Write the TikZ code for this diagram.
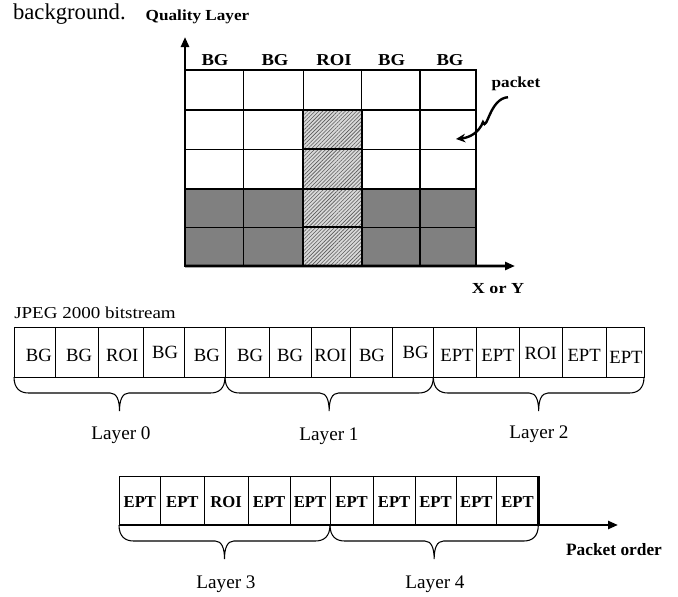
\documentclass[tikz,border=0pt]{standalone}
\usepackage{fontspec}
\setmainfont{Liberation Serif}
\usetikzlibrary{arrows.meta,patterns.meta,calc}
\newcommand{\wide}[2]{\scalebox{#1}[1]{#2}}
\begin{document}
\begin{tikzpicture}[x=0.75pt,y=-0.75pt,
  cell/.style={draw,line width=0.9pt,inner sep=0pt,outer sep=0pt,anchor=north west},
  whitecell/.style={cell,fill=white},
  darkcell/.style={cell,fill=black!50},
  roicell/.style={cell,line width=1.6pt,preaction={fill=black!15},
    pattern={Lines[angle=45,distance=2pt,line width=0.45pt]},pattern color=black!65},
  pbox/.style={draw,line width=0.7pt,inner sep=0pt,outer sep=0pt,anchor=north west},
  axis/.style={line width=2.2pt,-{Triangle[length=7.5pt,width=6pt]}},
  gridlab/.style={inner sep=0pt,font=\fontsize{12.5}{14}\selectfont\bfseries},
  rowone/.style={inner sep=0pt,font=\fontsize{14}{16}\selectfont},
  rowtwo/.style={inner sep=0pt,font=\fontsize{12.5}{15}\selectfont\bfseries},
  layerlab/.style={inner sep=0pt,font=\fontsize{14.4}{17}\selectfont},
  bracestyle/.style={line width=0.8pt}
]
\useasboundingbox (0,0) rectangle (678,596);

% stray text from surrounding page
\node[anchor=base east,inner sep=0pt,font=\fontsize{17}{20}\selectfont] (bgword) at (126,19) {background.};

% ---------- quality layer grid ----------
\node[anchor=base,inner sep=0pt,font=\fontsize{11.5}{13}\selectfont\bfseries] (qlabel) at (197.5,20) {\wide{1.12}{Quality Layer}};

\foreach \r/\ya/\yb in {0/70/110,1/110/149.3,2/149.3/189}
  \foreach \c/\xa/\xb in {0/185/243.3,1/243.3/303.3,3/361.7/420,4/420/476}
    \node[whitecell,minimum width={(\xb-\xa)*0.75pt},minimum height={(\yb-\ya)*0.75pt}] (g\r\c) at (\xa,\ya) {};
\foreach \r/\ya/\yb in {3/189/227.3,4/227.3/266}
  \foreach \c/\xa/\xb in {0/185/243.3,1/243.3/303.3,3/361.7/420,4/420/476}
    \node[darkcell,minimum width={(\xb-\xa)*0.75pt},minimum height={(\yb-\ya)*0.75pt}] (g\r\c) at (\xa,\ya) {};
\node[whitecell,minimum width={58.4*0.75pt},minimum height={40*0.75pt}] (g02) at (303.3,70) {};
\foreach \r/\ya/\yb in {1/110/149.3,2/149.3/189,3/189/227.3,4/227.3/266}
  \node[roicell,minimum width={58.4*0.75pt},minimum height={(\yb-\ya)*0.75pt}] (g\r2) at (303.3,\ya) {};

\foreach \c/\x/\t in {0/215/BG,1/275/BG,2/334/ROI,3/391.7/BG,4/450/BG}
  \node[gridlab] (h\c) at (\x,60) {\wide{1.12}{\t}};

\coordinate (ytip) at (185,37);
\coordinate (xtip) at (515,266);
\draw[axis] (g40.south west) -- (ytip);
\draw[axis] (g40.south west) -- (xtip);
\node[anchor=base,inner sep=0pt,font=\fontsize{11.5}{13}\selectfont\bfseries] (xlabel) at (498,293) {\wide{1.18}{X or Y}};

\node[anchor=base,inner sep=0pt,font=\fontsize{11.5}{13}\selectfont\bfseries] (pkt) at (516,87) {\wide{1.12}{packet}};
\coordinate (pktend) at (456,139);
\draw[line width=1.8pt,-{Stealth[length=7pt,width=6.5pt]}]
  ($(pkt.south)+(-6pt,-5pt)$) .. controls +(-14pt,-1pt) and +(3pt,-8pt) .. (483,122)
  .. controls +(-3pt,-8pt) and +(10pt,1pt) .. (pktend);

% ---------- JPEG 2000 bitstream ----------
\node[anchor=base west,inner sep=0pt,font=\fontsize{12.5}{15}\selectfont] (jlabel) at (14,318) {\wide{1.14}{JPEG 2000 bitstream}};

\foreach \i/\xa/\xb/\t/\dx/\dy in {
  0/14/55.7/BG/4/3, 1/55.7/98.7/BG/2/3, 2/98.7/143.7/ROI/1/3, 3/143.7/184.7/BG/1/0,
  4/184.7/225/BG/2/3, 5/225/269.3/BG/3/3, 6/269.3/311/BG/0/3, 7/311/350/ROI/0/3,
  8/350/392/BG/1/3, 9/392/433.3/BG/3/0, 10/433.3/476.7/EPT/2/3, 11/476.7/519.3/EPT/0/3,
  12/519.3/562.3/ROI/0/1, 13/562.3/606/EPT/0/3, 14/606/644/EPT/1/5}
{
  \node[pbox,minimum width={(\xb-\xa)*0.75pt},minimum height={50*0.75pt}] (b\i) at (\xa,327) {};
  \node[rowone] (t\i) at ($(b\i.center)+(\dx*0.75pt,-\dy*0.75pt)$) {\t};
}

% braces for layers 0-2
\foreach \s/\e in {b0/b4, b5/b9, b10/b14}{
  \draw[bracestyle] let \p1=(\s.south west), \p2=(\e.south east), \n1={(\x1+\x2)/2} in
    (\p1) .. controls +(0,-9pt) and +(-6pt,0) .. ({\x1+11pt},{\y1-12pt})
    -- ({\n1-7pt},{\y1-12pt}) .. controls +(5pt,0) and +(0,8pt) .. ({\n1},{\y1-25.5pt})
    .. controls +(0,8pt) and +(-5pt,0) .. ({\n1+7pt},{\y1-12pt})
    -- ({\x2-11pt},{\y1-12pt}) .. controls +(6pt,0) and +(0,-9pt) .. (\p2);
}
\node[layerlab] (L0) at (121,435) {Layer 0};
\node[layerlab] (L1) at (329,436) {Layer 1};
\node[layerlab] (L2) at (539,434) {Layer 2};

% ---------- second bitstream row ----------
\foreach \i/\xa/\xb/\t in {0/119/160.7/EPT, 1/160.7/204/EPT, 2/204/248.3/ROI, 3/248.3/290/EPT,
  4/290/330/EPT, 5/330/373.3/EPT, 6/373.3/415/EPT, 7/415/456/EPT, 8/456/496.7/EPT, 9/496.7/538.3/EPT}
{
  \node[pbox,minimum width={(\xb-\xa)*0.75pt},minimum height={49*0.75pt}] (c\i) at (\xa,476) {};
  \node[rowtwo] (u\i) at ($(c\i.center)+(0,-2*0.75pt)$) {\t};
}
\draw[line width=1.8pt] (c9.north east) -- (c9.south east);
\coordinate (pend) at (618,525);
\draw[line width=1.8pt,-{Triangle[length=7.5pt,width=6pt]}] (c0.south west) -- (pend);
\node[anchor=base,inner sep=0pt,font=\fontsize{13}{15}\selectfont\bfseries] (porder) at (614,555) {Packet order};

\foreach \s/\e in {c0/c4, c5/c9}{
  \draw[bracestyle] let \p1=(\s.south west), \p2=(\e.south east), \n1={(\x1+\x2)/2} in
    (\p1) .. controls +(0,-9pt) and +(-6pt,0) .. ({\x1+11pt},{\y1-12pt})
    -- ({\n1-7pt},{\y1-12pt}) .. controls +(5pt,0) and +(0,8pt) .. ({\n1},{\y1-25.5pt})
    .. controls +(0,8pt) and +(-5pt,0) .. ({\n1+7pt},{\y1-12pt})
    -- ({\x2-11pt},{\y1-12pt}) .. controls +(6pt,0) and +(0,-9pt) .. (\p2);
}
\node[layerlab] (L3) at (226,584) {Layer 3};
\node[layerlab] (L4) at (435,584) {Layer 4};
\end{tikzpicture}
\end{document}
